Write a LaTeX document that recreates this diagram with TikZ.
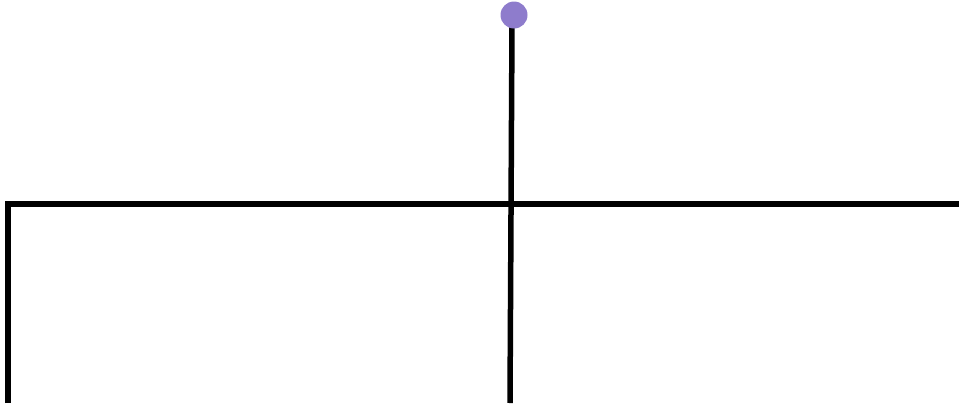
\documentclass[tikz,border=0pt]{standalone}
\definecolor{dotpurple}{HTML}{8E7CCC}
\tikzset{wire/.style={line width=5.5pt, draw=black}}
\begin{document}
\begin{tikzpicture}[x=1pt,y=-1pt]
\useasboundingbox (0,0) rectangle (959,407);
\coordinate (top) at (512,25);
\coordinate (bot) at (510,403);
\coordinate (lb) at (8,403);
\coordinate (lt) at (8,204);
\coordinate (re) at (960,204);
\draw[wire] (top) -- (bot);
\draw[wire, line join=miter] (lb) -- (lt) -- (re);
\node[circle, fill=dotpurple, minimum size=27pt, inner sep=0pt] (dot) at (514,15) {};
\end{tikzpicture}
\end{document}
